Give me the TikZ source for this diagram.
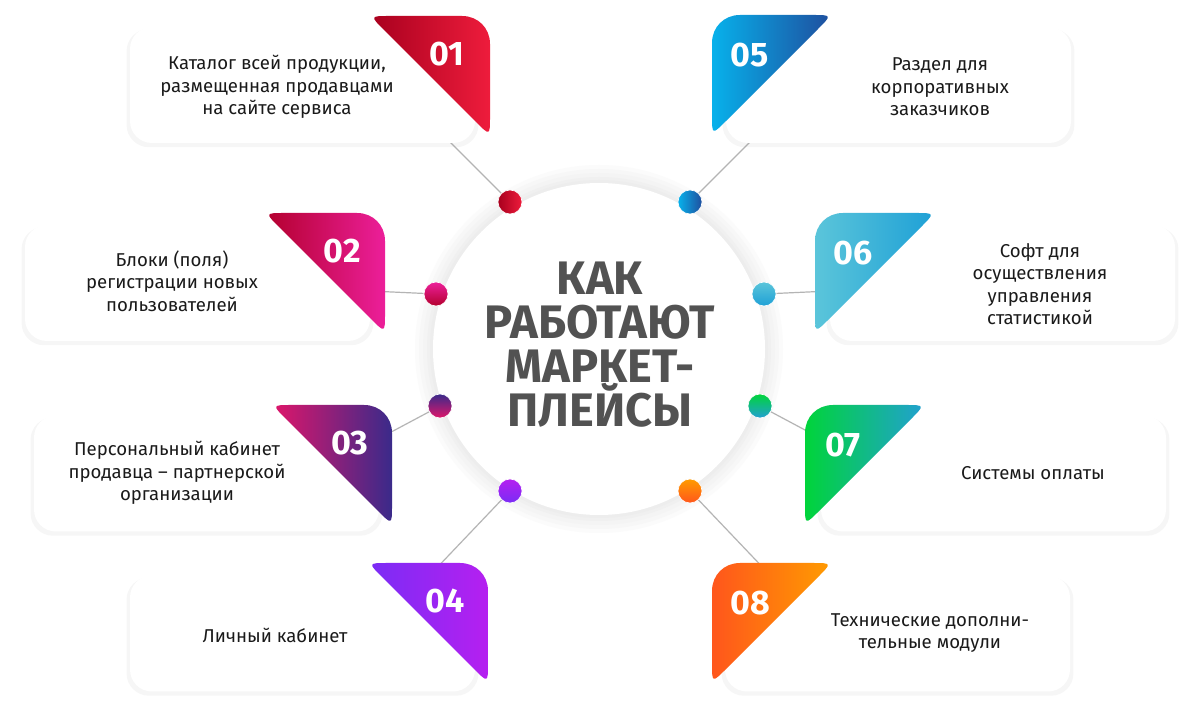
\documentclass[tikz,border=0pt]{standalone}
\usepackage{fontspec}
\setmainfont{Fira Sans}
\usetikzlibrary{shadows}
\definecolor{ink}{HTML}{1A1A1A}
\definecolor{headgray}{HTML}{525252}
\definecolor{linkgray}{HTML}{B4B4B4}
\definecolor{ta1}{HTML}{A8001E}\definecolor{tb1}{HTML}{EE1C3C}
\definecolor{ta2}{HTML}{B3002D}\definecolor{tb2}{HTML}{EC1F9A}
\definecolor{ta3}{HTML}{E0166A}\definecolor{tb3}{HTML}{3A2A8A}
\definecolor{ta4}{HTML}{7A2CF5}\definecolor{tb4}{HTML}{B520F0}
\definecolor{ta5}{HTML}{07B1EB}\definecolor{tb5}{HTML}{1F4E9E}
\definecolor{ta6}{HTML}{5BC5DA}\definecolor{tb6}{HTML}{1EA0D6}
\definecolor{ta7}{HTML}{00D43A}\definecolor{tb7}{HTML}{22A0D2}
\definecolor{ta8}{HTML}{FF561C}\definecolor{tb8}{HTML}{FF9C00}
\pgfdeclarelayer{back}
\pgfsetlayers{back,main}
\newcommand{\lefttab}[4]{\shade[left color=#1,right color=#2,shift={(#3,#4)}]
  (20,0) -- (92,0) .. controls (108,0) and (120,12) .. (120,28) -- (120,100)
  .. controls (120,120) .. (105.9,105.9) -- (14.1,14.1) .. controls (0,0) .. (20,0) -- cycle;}
\newcommand{\righttab}[4]{\shade[left color=#1,right color=#2,shift={(#3,#4)}]
  (0,28) .. controls (0,12) and (12,0) .. (28,0) -- (100,0) .. controls (120,0) .. (105.9,14.1)
  -- (14.1,105.9) .. controls (0,120) .. (0,100) -- cycle;}

\begin{document}
\begin{tikzpicture}[x=0.5pt,y=-0.5pt,inner sep=0pt,
  card/.style={rectangle,fill=white,rounded corners=11pt,minimum width=345*\u,minimum height=116*\u,
    drop shadow={opacity=0.07,shadow xshift=0pt,shadow yshift=-1.5pt,shadow scale=1.02}},
  dot/.style={circle,minimum size=24*\u,draw=white,line width=0.3pt},
  num/.style={text=white,font=\fontsize{17}{17}\selectfont\bfseries},
  txt/.style={text=ink,align=center,font=\fontsize{9.3}{11.25}\selectfont},
  head/.style={text=headgray,align=center,font=\fontsize{23.5}{22}\selectfont\bfseries},
  link/.style={draw=linkgray,line width=0.6pt}]
\def\u{0.5pt}
\useasboundingbox (0,0) rectangle (1200,710);

\node[circle,fill=white,minimum size=332*\u] (hub) at (599,349) {};
\node[head] (title) at (600,345) {КАК\\РАБОТАЮТ\\МАРКЕТ-\\ПЛЕЙСЫ};

\node[card] (c1) at (302.5,85) {};
\node[card] (c2) at (197.5,283) {};
\node[card] (c3) at (206.5,473.5) {};
\node[card] (c4) at (302.5,633.5) {};
\node[card] (c5) at (898.5,85) {};
\node[card] (c6) at (1002.5,283) {};
\node[card] (c7) at (993.5,473.5) {};
\node[card] (c8) at (897.5,633.5) {};

\lefttab{ta1}{tb1}{370}{16}
\lefttab{ta2}{tb2}{265}{213}
\lefttab{ta3}{tb3}{272}{405}
\lefttab{ta4}{tb4}{368}{563}
\righttab{ta5}{tb5}{712}{15}
\righttab{ta6}{tb6}{815}{213}
\righttab{ta7}{tb7}{805}{405}
\righttab{ta8}{tb8}{712}{563}

\node[num] (n1) at (447,54) {01};
\node[num] (n2) at (342,251) {02};
\node[num] (n3) at (350,443) {03};
\node[num] (n4) at (445,601) {04};
\node[num] (n5) at (750,55) {05};
\node[num] (n6) at (853,253) {06};
\node[num] (n7) at (843,445) {07};
\node[num] (n8) at (750,603) {08};

\node[txt] (t1) at (277,87) {Каталог всей продукции,\\размещенная продавцами\\на сайте сервиса};
\node[txt] (t2) at (172,281) {Блоки (поля)\\регистрации новых\\пользователей};
\node[txt] (t3) at (177,473) {Персональный кабинет\\продавца – партнерской\\организации};
\node[txt] (t4) at (275,635) {Личный кабинет};
\node[txt] (t5) at (940,87) {Раздел для\\корпоративных\\заказчиков};
\node[txt] (t6) at (1040,284) {Софт для\\осуществления\\управления\\статистикой};
\node[txt] (t7) at (1033,473) {Системы оплаты};
\node[txt] (t8) at (930,633) {Технические дополни-\\тельные модули};

\node[dot,left color=ta1,right color=tb1] (d1) at (510,202) {};
\node[dot,top color=tb2,bottom color=ta2] (d2) at (436,294) {};
\node[dot,top color=tb3,bottom color=ta3] (d3) at (440,406) {};
\node[dot,top color=tb4,bottom color=ta4] (d4) at (510,491) {};
\node[dot,left color=ta5,right color=tb5] (d5) at (690,202) {};
\node[dot,top color=ta6,bottom color=tb6] (d6) at (764,294) {};
\node[dot,top color=ta7,bottom color=tb7] (d7) at (760,406) {};
\node[dot,top color=tb8,bottom color=ta8] (d8) at (690,491) {};

\coordinate (e1) at (445,137);
\coordinate (e2) at (370,291);
\coordinate (e3) at (380,438);
\coordinate (e4) at (430,575);
\coordinate (e5) at (755,137);
\coordinate (e6) at (830,291);
\coordinate (e7) at (820,438);
\coordinate (e8) at (770,575);

\begin{pgfonlayer}{back}
\fill[white] (0,0) rectangle (1200,710);
\fill[black!1.5] (hub.center) circle (184*\u);
\fill[black!3] (hub.center) circle (180*\u);
\fill[black!4.5] (hub.center) circle (176*\u);
\fill[black!6] (hub.center) circle (172*\u);
\fill[black!7] (hub.center) circle (169*\u);
\draw[link] (d1) -- (e1);
\draw[link] (d2) -- (e2);
\draw[link] (d3) -- (e3);
\draw[link] (d4) -- (e4);
\draw[link] (d5) -- (e5);
\draw[link] (d6) -- (e6);
\draw[link] (d7) -- (e7);
\draw[link] (d8) -- (e8);
\end{pgfonlayer}
\end{tikzpicture}
\end{document}
